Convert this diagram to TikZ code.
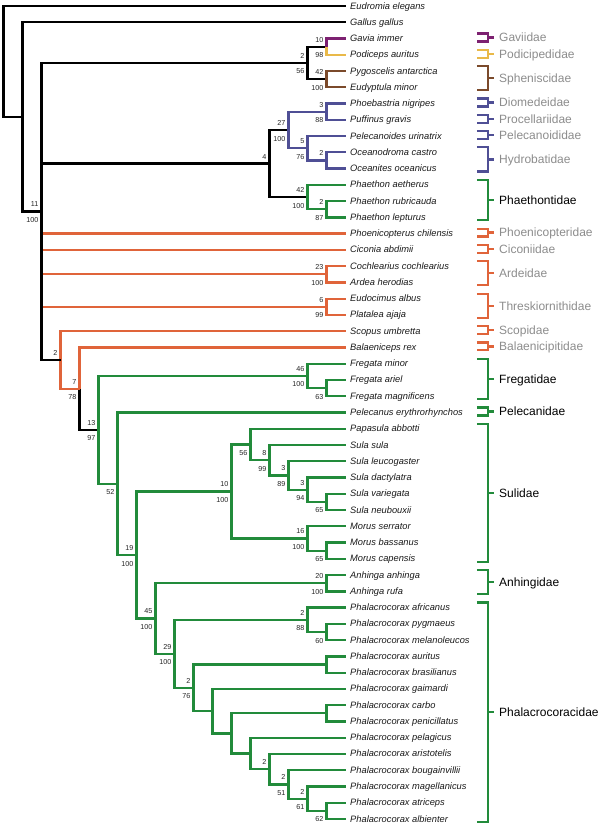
\documentclass[tikz,border=0pt]{standalone}
\usepackage{fontspec}
\setmainfont{Liberation Sans}
\definecolor{cPu}{RGB}{125,33,113}
\definecolor{cYe}{RGB}{233,185,73}
\definecolor{cBr}{RGB}{123,74,43}
\definecolor{cBl}{RGB}{79,79,149}
\definecolor{cGr}{RGB}{34,139,59}
\definecolor{cOr}{RGB}{224,100,58}
\definecolor{cGy}{RGB}{140,140,140}
\newcommand\ba[2]{\node[ablab] (#1a) at (#1) {#2};}
\newcommand\bb[2]{\node[bllab] (#1b) at (#1) {#2};}
\newcommand\fambr[6]{%
  \draw[brk,#3] (24.92,#1-0.31) -- (25.5,#1-0.31) -- (25.5,#2+0.18) -- (24.92,#2+0.18);
  \draw[brk,#3] (25.5,{(#1+#2)/2-0.065}) -- (25.8,{(#1+#2)/2-0.065});
  \node[famt,#4] (#5) at (26.08,{(#1+#2)/2-0.065}) {#6};}
\begin{document}
\begin{tikzpicture}[x=19pt,y=-16.26pt,
  edge/.style={line width=2.3pt,line join=miter},
  brk/.style={line width=2.2pt,line join=miter},
  sp/.style={anchor=base west,inner sep=0pt,xshift=4.5pt,yshift=-3pt,text=black!90,font=\fontsize{9.3}{11}\selectfont\itshape},
  ablab/.style={anchor=south east,inner sep=0pt,xshift=-3pt,yshift=4.3pt,text=black!85,font=\fontsize{7.2}{8}\selectfont},
  bllab/.style={anchor=north east,inner sep=0pt,xshift=-3pt,yshift=-5.8pt,text=black!85,font=\fontsize{7.2}{8}\selectfont},
  famt/.style={anchor=base west,inner sep=0pt,yshift=-4.3pt,font=\fontsize{12}{14}\selectfont}]
\useasboundingbox (-0.1842,0.631) rectangle (31.447,51.43);
\foreach \i in {1,...,51} \coordinate (L\i) at (18,\i);
\coordinate (n0) at (0,4.408);
\coordinate (n22) at (1,7.817);
\coordinate (n42) at (2,13.633);
\coordinate (nGPP) at (16,4.5);
\coordinate (nGP) at (17,3.5);
\coordinate (nPeng) at (17,5.5);
\coordinate (n270) at (14,10.6875);
\coordinate (nProc) at (15,8.625);
\coordinate (nPP) at (17,7.5);
\coordinate (nPO) at (16,9.75);
\coordinate (nOO) at (17,10.5);
\coordinate (nPhae) at (16,12.75);
\coordinate (nRL) at (17,13.5);
\coordinate (nArd) at (17,17.5);
\coordinate (nThr) at (17,19.5);
\coordinate (n60) at (3,22.767);
\coordinate (n80) at (4,24.533);
\coordinate (n97) at (5,27.066);
\coordinate (nFreg) at (16,23.75);
\coordinate (nFAM) at (17,24.5);
\coordinate (n116) at (6,30.383);
\coordinate (n135) at (7,34.765);
\coordinate (nSul) at (12,30.859);
\coordinate (n251) at (13,27.969);
\coordinate (n270s) at (14,28.9375);
\coordinate (n288s) at (15,29.875);
\coordinate (n307s) at (16,30.75);
\coordinate (n326s) at (17,31.5);
\coordinate (nMor) at (16,33.75);
\coordinate (nMorBC) at (17,34.5);
\coordinate (n156) at (8,38.671);
\coordinate (nAnh) at (17,36.5);
\coordinate (nPhal) at (9,40.842);
\coordinate (nAfr) at (16,38.75);
\coordinate (nPM) at (17,39.5);
\coordinate (n194p) at (10,42.934);
\coordinate (nAB) at (17,41.5);
\coordinate (n213p) at (11,44.367);
\coordinate (n232p) at (12,45.734);
\coordinate (nCP) at (17,44.5);
\coordinate (n251p) at (13,46.969);
\coordinate (n270p) at (14,47.9375);
\coordinate (nBMAA) at (15,48.875);
\coordinate (nMAA) at (16,49.75);
\coordinate (nAM) at (17,50.5);
% black backbone
\draw[edge,black] (n0) |- (L1); \draw[edge,black] (n0) |- (n22);
\draw[edge,black] (n22) |- (L2); \draw[edge,black] (n22) |- (n42);
\draw[edge,black] (n42) |- (nGPP); \draw[edge,black] (n42) |- (n270);
\draw[edge,black] (nGPP) |- (nGP); \draw[edge,black] (nGPP) |- (nPeng);
\draw[edge,black] (n270) |- (nProc); \draw[edge,black] (n270) |- (nPhae);
\draw[edge,black] (n80) |- (n97);
% loons, grebes, penguins
\draw[edge,cPu] (nGP) |- (L3); \draw[edge,cYe] (nGP) |- (L4);
\draw[edge,cBr] (nPeng) |- (L5); \draw[edge,cBr] (nPeng) |- (L6);
% Procellariiformes
\foreach \a/\b in {nProc/nPP,nProc/nPO,nPP/L7,nPP/L8,nPO/L9,nPO/nOO,nOO/L10,nOO/L11}
  \draw[edge,cBl] (\a) |- (\b);
% Phaethon
\foreach \a/\b in {nPhae/L12,nPhae/nRL,nRL/L13,nRL/L14}
  \draw[edge,cGr] (\a) |- (\b);
% orange
\foreach \a/\b in {n42/L15,n42/L16,n42/nArd,n42/nThr,nArd/L17,nArd/L18,nThr/L19,nThr/L20,n60/L21,n60/n80,n80/L22}
  \draw[edge,cOr] (\a) |- (\b);
% green Suliformes
\foreach \a/\b in {n97/nFreg,n97/n116,nFreg/L23,nFreg/nFAM,nFAM/L24,nFAM/L25,n116/L26,n116/n135,
  n135/nSul,n135/n156,nSul/n251,nSul/nMor,n251/L27,n251/n270s,n270s/L28,n270s/n288s,n288s/L29,n288s/n307s,
  n307s/L30,n307s/n326s,n326s/L31,n326s/L32,nMor/L33,nMor/nMorBC,nMorBC/L34,nMorBC/L35,
  n156/nAnh,n156/nPhal,nAnh/L36,nAnh/L37,nPhal/nAfr,nPhal/n194p,nAfr/L38,nAfr/nPM,nPM/L39,nPM/L40,
  n194p/nAB,n194p/n213p,nAB/L41,nAB/L42,n213p/L43,n213p/n232p,n232p/nCP,n232p/n251p,nCP/L44,nCP/L45,
  n251p/L46,n251p/n270p,n270p/L47,n270p/nBMAA,nBMAA/L48,nBMAA/nMAA,nMAA/L49,nMAA/nAM,nAM/L50,nAM/L51}
  \draw[edge,cGr] (\a) |- (\b);
\draw[edge,black] (n42) |- (n60);
% species
\foreach \nm [count=\i] in {Eudromia elegans,Gallus gallus,Gavia immer,Podiceps auritus,Pygoscelis antarctica,
  Eudyptula minor,Phoebastria nigripes,Puffinus gravis,Pelecanoides urinatrix,Oceanodroma castro,
  Oceanites oceanicus,Phaethon aetherus,Phaethon rubricauda,Phaethon lepturus,Phoenicopterus chilensis,
  Ciconia abdimii,Cochlearius cochlearius,Ardea herodias,Eudocimus albus,Platalea ajaja,Scopus umbretta,
  Balaeniceps rex,Fregata minor,Fregata ariel,Fregata magnificens,Pelecanus erythrorhynchos,
  Papasula abbotti,Sula sula,Sula leucogaster,Sula dactylatra,Sula variegata,Sula neubouxii,
  Morus serrator,Morus bassanus,Morus capensis,Anhinga anhinga,Anhinga rufa,
  Phalacrocorax africanus,Phalacrocorax pygmaeus,Phalacrocorax melanoleucos,Phalacrocorax auritus,
  Phalacrocorax brasilianus,Phalacrocorax gaimardi,Phalacrocorax carbo,Phalacrocorax penicillatus,
  Phalacrocorax pelagicus,Phalacrocorax aristotelis,Phalacrocorax bougainvillii,
  Phalacrocorax magellanicus,Phalacrocorax atriceps,Phalacrocorax albienter}
  \node[sp] (s\i) at (L\i) {\nm};
% support values
\ba{n42}{11}\bb{n42}{100}
\ba{nGPP}{2}\bb{nGPP}{56}
\ba{nGP}{10}\bb{nGP}{98}
\ba{nPeng}{42}\bb{nPeng}{100}
\ba{nPP}{3}\bb{nPP}{88}
\ba{nProc}{27}\bb{nProc}{100}
\ba{n270}{4}
\ba{nPO}{5}\bb{nPO}{76}
\ba{nOO}{2}
\ba{nPhae}{42}\bb{nPhae}{100}
\ba{nRL}{2}\bb{nRL}{87}
\ba{nArd}{23}\bb{nArd}{100}
\ba{nThr}{6}\bb{nThr}{99}
\ba{n60}{2}
\ba{n80}{7}\bb{n80}{78}
\ba{n97}{13}\bb{n97}{97}
\ba{nFreg}{46}\bb{nFreg}{100}
\bb{nFAM}{63}
\bb{n116}{52}
\ba{n135}{19}\bb{n135}{100}
\ba{nSul}{10}\bb{nSul}{100}
\bb{n251}{56}
\ba{n270s}{8}\bb{n270s}{99}
\ba{n288s}{3}\bb{n288s}{89}
\ba{n307s}{3}\bb{n307s}{94}
\bb{n326s}{65}
\ba{nMor}{16}\bb{nMor}{100}
\bb{nMorBC}{65}
\ba{nAnh}{20}\bb{nAnh}{100}
\ba{n156}{45}\bb{n156}{100}
\ba{nPhal}{29}\bb{nPhal}{100}
\ba{nAfr}{2}\bb{nAfr}{88}
\bb{nPM}{60}
\ba{n194p}{2}\bb{n194p}{76}
\ba{n270p}{2}
\ba{nBMAA}{2}\bb{nBMAA}{51}
\ba{nMAA}{2}\bb{nMAA}{61}
\bb{nAM}{62}
% families
\fambr{3}{3}{cPu}{cGy}{fGav}{Gaviidae}
\fambr{4}{4}{cYe}{cGy}{fPod}{Podicipedidae}
\fambr{5}{6}{cBr}{cGy}{fSph}{Spheniscidae}
\fambr{7}{7}{cBl}{cGy}{fDio}{Diomedeidae}
\fambr{8}{8}{cBl}{cGy}{fPro}{Procellariidae}
\fambr{9}{9}{cBl}{cGy}{fPel}{Pelecanoididae}
\fambr{10}{11}{cBl}{cGy}{fHyd}{Hydrobatidae}
\fambr{12}{14}{cGr}{black}{fPha}{Phaethontidae}
\fambr{15}{15}{cOr}{cGy}{fPho}{Phoenicopteridae}
\fambr{16}{16}{cOr}{cGy}{fCic}{Ciconiidae}
\fambr{17}{18}{cOr}{cGy}{fArd}{Ardeidae}
\fambr{19}{20}{cOr}{cGy}{fThr}{Threskiornithidae}
\fambr{21}{21}{cOr}{cGy}{fSco}{Scopidae}
\fambr{22}{22}{cOr}{cGy}{fBal}{Balaenicipitidae}
\fambr{23}{25}{cGr}{black}{fFre}{Fregatidae}
\fambr{26}{26}{cGr}{black}{fPelc}{Pelecanidae}
\fambr{27}{35}{cGr}{black}{fSul}{Sulidae}
\fambr{36}{37}{cGr}{black}{fAnh}{Anhingidae}
\fambr{38}{51}{cGr}{black}{fPhal}{Phalacrocoracidae}
\end{tikzpicture}
\end{document}
